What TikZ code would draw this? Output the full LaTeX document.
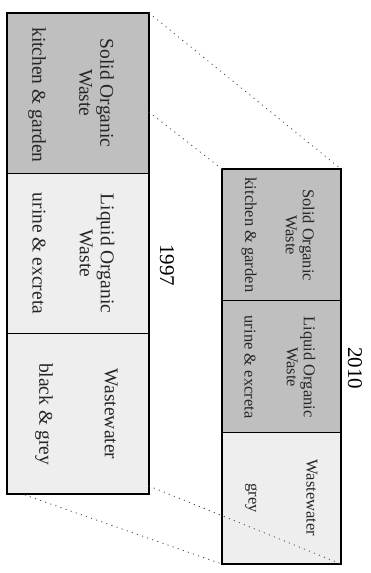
\documentclass[tikz,border=0pt]{standalone}
\usepackage{fontspec}
\setmainfont{Liberation Serif}
\begin{document}
\begin{tikzpicture}[x=1pt,y=-1pt]
\tikzset{
 secbig/.style={draw=black, line width=1.4pt, inner sep=0pt, outer sep=0pt, anchor=north west, minimum width=142pt, minimum height=160.33pt},
 secsmall/.style={draw=black, line width=1.3pt, inner sep=0pt, outer sep=0pt, anchor=north west, minimum width=119pt, minimum height=131.67pt},
 dark/.style={fill=gray!50},
 light/.style={fill=gray!13},
 bigtxt/.style={rotate=-90, align=center, font=\fontsize{19.5}{21}\selectfont, inner sep=0pt, text=black!85},
 smalltxt/.style={rotate=-90, align=center, font=\fontsize{16.5}{17}\selectfont, inner sep=0pt, text=black!85},
 yeartxt/.style={rotate=-90, font=\fontsize{21}{22}\selectfont, inner sep=0pt},
 proj/.style={draw=gray!60!black, line width=0.9pt, dash pattern=on 0.6pt off 4.8pt, line cap=round}
}
\useasboundingbox[fill=white] (0,0) rectangle (370,573);
% 1997 box
\node[secbig, dark]  (A1) at (7,13) {};
\node[secbig, light] (A2) at (7,173.33) {};
\node[secbig, light] (A3) at (7,333.67) {};
% 2010 box
\node[secsmall, dark]  (B1) at (222,169) {};
\node[secsmall, dark]  (B2) at (222,300.67) {};
\node[secsmall, light] (B3) at (222,432.33) {};
% texts 1997
\node[bigtxt] (A1t) at (96.5,93) {Solid Organic\\Waste};
\node[bigtxt] (A1s) at (37,95) {kitchen \& garden};
\node[bigtxt] (A2t) at (97,253.5) {Liquid Organic\\Waste};
\node[bigtxt] (A2s) at (39,253.5) {urine \& excreta};
\node[bigtxt] (A3t) at (111,414) {Wastewater};
\node[bigtxt] (A3s) at (44,414) {black \& grey};
% texts 2010
\node[smalltxt] (B1t) at (300,235) {Solid Organic\\Waste};
\node[smalltxt] (B1s) at (249,235) {kitchen \& garden};
\node[smalltxt] (B2t) at (301,367) {Liquid Organic\\Waste};
\node[smalltxt] (B2s) at (250,367) {urine \& excreta};
\node[smalltxt] (B3t) at (312,498) {Wastewater};
\node[smalltxt] (B3s) at (251,498) {grey};
% years
\node[yeartxt] (Y1) at (167,265) {1997};
\node[yeartxt] (Y2) at (355,368) {2010};
% projection lines
\coordinate (p1) at (149,112);
\coordinate (pA) at (149,486);
\coordinate (pB) at (25,495);
\draw[proj] (A1.north east) -- (B1.north east);
\draw[proj] (p1) -- (B1.north west);
\draw[proj] (pA) -- (B3.south east);
\draw[proj] (pB) -- (B3.south west);
\end{tikzpicture}
\end{document}
